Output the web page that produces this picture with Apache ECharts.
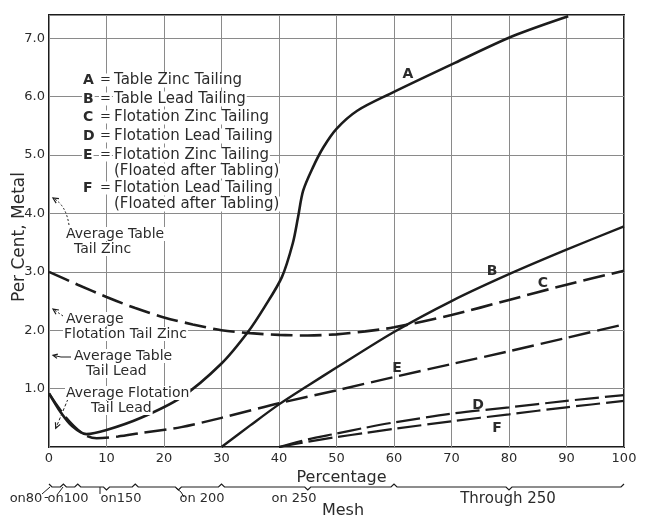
<!DOCTYPE html>
<html><head><meta charset="utf-8">
<script src="https://cdn.jsdelivr.net/npm/echarts@6/dist/echarts.min.js"></script>
<style>html,body{margin:0;padding:0;background:#fff}#c{width:646px;height:517px}</style>
</head><body><div id="c"></div>
<script>
// ---- data ----
const percentTickLabels = ['0','10','20','30','40','50','60','70','80','90','100'];
const metalTickLabels = ['', '1.0','2.0','3.0','4.0','5.0','6.0','7.0'];
const curveA = [[0,0.92],[2,0.6],[4,0.36],[6.5,0.22],[10,0.29],[16,0.5],[23,0.85],[30,1.43],[34.6,1.97],[37.5,2.4],[40.5,2.91],[42.4,3.49],[43.3,3.93],[44.2,4.39],[45.9,4.79],[47.7,5.13],[50,5.45],[53.6,5.76],[59.3,6.05],[70.6,6.58],[80.7,7.04],[90.3,7.38]];
const curveB = [[30,0],[35,0.37],[40,0.73],[45,1.05],[50,1.36],[60,1.97],[70,2.5],[80,2.96],[90,3.38],[100,3.78]];
const curveC = [[0,3.0],[5,2.78],[10,2.57],[15,2.38],[20,2.22],[25,2.1],[30,2.0],[35,1.95],[40,1.92],[45,1.91],[50,1.93],[55,1.98],[60,2.05],[70,2.26],[80,2.52],[90,2.78],[100,3.02]];
const curveD = [[40,0],[45,0.13],[50,0.23],[55,0.33],[60,0.42],[70,0.57],[80,0.68],[90,0.79],[100,0.89]];
const curveE = [[0,0.92],[3,0.5],[6,0.22],[8.3,0.15],[12,0.18],[16,0.24],[23,0.34],[30,0.5],[40,0.75],[50,0.97],[60,1.2],[70,1.42],[80,1.64],[90,1.87],[100,2.1]];
const curveF = [[40,0],[45,0.09],[50,0.17],[55,0.24],[60,0.31],[70,0.44],[80,0.56],[90,0.68],[100,0.79]];
const legendRows = [['A','Table Zinc Tailing'],['B','Table Lead Tailing'],['C','Flotation Zinc Tailing'],['D','Flotation Lead Tailing'],['E','Flotation Zinc Tailing','(Floated after Tabling)'],['F','Flotation Lead Tailing','(Floated after Tabling)']];
const averages = [4.3, 2.38, 1.57, 0.32]; // table zinc, flotation zinc, table lead, flotation lead
const meshBounds = [0, 2.5, 5, 15, 30, 60, 100];
const meshLabels = ['on80','on100','on150','on 200','on 250','Through 250'];

// ---- chart ----
const INK = '#1c1c1c', TXT = '#2b2b2b', FONT = 'DejaVu Sans';
const chart = echarts.init(document.getElementById('c'), null, {renderer:'canvas'});
function ln(name, data, width, dash){
  return {name, type:'line', data, showSymbol:false, smooth:0.3, silent:true,
    lineStyle:{color:INK, width, type: dash || 'solid', cap:'butt'}, z:5};
}
chart.setOption({
  animation:false,
  grid:{left:49, right:22, top:15, bottom:70, show:true, borderColor:INK, borderWidth:2, outerBoundsMode:'none', containLabel:false},
  xAxis:{type:'value', min:0, max:100, interval:10,
    name:'Percentage', nameLocation:'middle', nameGap:23,
    nameTextStyle:{fontFamily:FONT, fontSize:16, color:TXT, padding:[0,0,0,10]},
    axisLine:{show:false}, axisTick:{show:false},
    axisLabel:{fontFamily:FONT, fontSize:13, color:TXT, margin:5, formatter:v=>percentTickLabels[Math.round(v/10)]},
    splitLine:{show:true, lineStyle:{color:'#8a8a8a', width:1}}},
  yAxis:{type:'value', min:0, max:7.4, interval:1,
    axisLine:{show:false}, axisTick:{show:false},
    axisLabel:{fontFamily:FONT, fontSize:13, color:TXT, margin:4, showMaxLabel:false,
      formatter:v=>{const r=Math.round(v); return Math.abs(v-r)<1e-6 ? (metalTickLabels[r]||'') : '';}},
    splitLine:{show:true, lineStyle:{color:'#8a8a8a', width:1}}},
  series:[
    ln('A', curveA, 2.6),
    ln('B', curveB, 2.4),
    ln('C', curveC, 2.6, [22,7]),
    ln('D', curveD, 2.2, [24,6]),
    ln('E', curveE, 2.4, [22,7]),
    ln('F', curveF, 2.2, [24,6])
  ]
});

// ---- annotations ----
const P = (x,y)=>chart.convertToPixel({gridIndex:0},[x,y]);
const g = [];
function txt(t, x, y, opt){
  opt = opt||{};
  g.push({type:'text', z:10, silent:true, x:opt.rot?x:0, y:opt.rot?y:0, rotation:opt.rot||0,
    style:{text:t, x:opt.rot?0:x, y:opt.rot?0:y, fill:TXT,
    font:(opt.bold?'bold ':'')+(opt.size||14)+'px "'+FONT+'"', textAlign:opt.align||'left', textVerticalAlign:'middle',
    backgroundColor: opt.bg===false ? null : '#fff', padding:[0,1]}});
}
function line(pts, dash, w){
  g.push({type:'polyline', z:9, silent:true, shape:{points:pts}, style:{stroke:INK, lineWidth:w||1, fill:null, lineDash:dash||null}});
}
function arrowHead(tip, from, len){
  const ang = Math.atan2(from[1]-tip[1], from[0]-tip[0]);
  const a1 = ang+0.45, a2 = ang-0.45;
  line([[tip[0]+len*Math.cos(a1), tip[1]+len*Math.sin(a1)], tip, [tip[0]+len*Math.cos(a2), tip[1]+len*Math.sin(a2)]], null, 1.2);
}
// y-axis title
txt('Per Cent, Metal', 20, 237, {rot:Math.PI/2, align:'center', bg:false, size:17});
// legend
const rowY = [80, 99, 117, 136, 155, 188];
legendRows.forEach((r,i)=>{
  txt(r[0], 82, rowY[i], {bold:true, size:14});
  txt('=', 99, rowY[i], {size:13});
  txt(r[1], 113, rowY[i], {size:15});
  if (r[2]) txt(r[2], 113, rowY[i]+16, {size:15});
});
// curve letters
[['A',408,74],['B',492,271],['C',543,283],['D',478,405],['E',397,368],['F',497,428]].forEach(l=>txt(l[0], l[1], l[2], {bold:true, align:'center', bg:false, size:14}));

// average annotations
const t0 = P(0, averages[0]);
txt('Average Table', 65, 234); txt('Tail Zinc', 73, 249);
g.push({type:'bezierCurve', z:9, silent:true, shape:{x1:69,y1:225,x2:t0[0]+4,y2:t0[1]+2,cpx1:66,cpy1:205}, style:{stroke:INK, lineWidth:1, lineDash:[2,2], fill:null}});
arrowHead([t0[0]+4, t0[1]+2], [64, 205], 6);

const t1 = P(0, averages[1]);
txt('Average', 65, 319); txt('Flotation Tail Zinc', 63, 334);
line([[63,316],[t1[0]+4,t1[1]+1]], [2,2]);
arrowHead([t1[0]+4,t1[1]+1],[63,316],6);

const t2 = P(0, averages[2]);
txt('Average Table', 73, 356); txt('Tail Lead', 85, 371);
line([[71,357],[61,357],[t2[0]+4,t2[1]]]);
arrowHead([t2[0]+4,t2[1]],[61,357],5);

const t3 = P(1, averages[3]);
txt('Average Flotation', 65, 393); txt('Tail Lead', 90, 408);
line([[68,399],[t3[0]+1,t3[1]]], [3,2]);
arrowHead([t3[0]+1,t3[1]],[68,399],6);

// mesh brace
const y0 = 487;
const bracePts = [];
for (let i=0;i<meshBounds.length-1;i++){
  const a = P(meshBounds[i],0)[0], b = P(meshBounds[i+1],0)[0], m=(a+b)/2;
  bracePts.push([a, y0-3],[a+3, y0]);
  if (b-a > 30){ bracePts.push([m-3,y0],[m,y0+3],[m+3,y0]); }
  bracePts.push([b-3, y0],[b, y0-3]);
}
line(bracePts, null, 1.2);
const meshX = [26, 68, 121, 202, 294, 508];
meshLabels.forEach((l,i)=>txt(l, meshX[i], 499, {align:'center', bg:false, size: i===5?15:13}));
txt('-', 43, 498, {bg:false, size:13});
line([[42,494],[50,487]]); line([[57,495],[63,487]]);
line([[100,494],[100,487]]); line([[176,488],[181,492],[184,497]]);
txt('Mesh', 343, 511, {align:'center', bg:false, size:16});

chart.setOption({graphic:{elements:g}});
</script></body></html>
